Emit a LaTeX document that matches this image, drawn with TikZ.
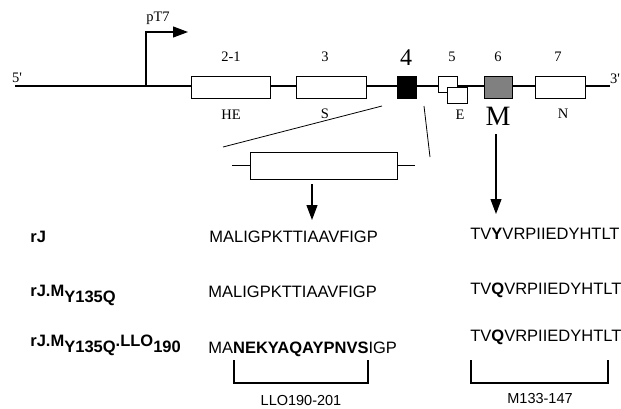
\documentclass[tikz,border=0pt]{standalone}
\usepackage{fontspec}
\setmainfont{Liberation Serif}
\setsansfont{Liberation Sans}
\usetikzlibrary{arrows.meta,positioning}
\newcommand{\lowsub}[1]{\raisebox{-6pt}{#1}}

\begin{document}
\begin{tikzpicture}[x=1pt,y=-1pt,every node/.style={font=\fontsize{14.5}{16}\selectfont,inner sep=0pt},line width=0.8pt]
\tikzset{exon/.style={draw,fill=white,minimum height=22pt,inner sep=0pt},
  seq/.style={font=\sffamily\fontsize{16.5}{18}\selectfont,anchor=base west},
  tag/.style={font=\sffamily\bfseries\fontsize{16.5}{18}\selectfont,anchor=base west},
  span/.style={font=\sffamily\fontsize{14.5}{16}\selectfont,anchor=base},
  tip/.style={-{Triangle[length=15pt,width=11pt]}}}
\useasboundingbox (0,0) rectangle (621,408);

% ---------- gene ----------
\coordinate (G5) at (15,86);
\coordinate (G3) at (610,86);
\draw[line width=1.3pt] (G5) -- (G3);

\node[exon,minimum width=79pt] (E21) at (230.5,87) {};
\node[exon,minimum width=70pt] (E3) at (331,87) {};
\node[exon,fill=black,minimum width=19pt] (E4) at (406.5,87) {};
\node[exon,minimum width=19pt,minimum height=16pt] (E5a) at (447.5,84) {};
\node[exon,minimum width=20pt,minimum height=16pt] (E5b) at (457,95) {};
\node[exon,fill=gray,minimum width=28pt] (E6) at (498,87) {};
\node[exon,minimum width=50pt] (E7) at (560,87) {};

\coordinate (P0) at (146,86);
\coordinate (P1) at (188,32);
\draw[tip,line width=1.1pt] (P0) |- (P1);
\node (pT7) at (158,18) {pT7};

\node (L5) at (17,78) {5\textquotesingle};
\node (L3) at (615,79) {3\textquotesingle};
\node (N21) at (231,57) {2-1};
\node (N3) at (325,57) {3};
\node[font=\fontsize{24}{26}\selectfont] (N4) at (406,58) {4};
\node (N5) at (452,57) {5};
\node (N6) at (498,57) {6};
\node (N7) at (558,57) {7};
\node (HE) at (231,115) {HE};
\node (S) at (325,114) {S};
\node (E) at (460,115) {E};
\node[font=\fontsize{28}{30}\selectfont] (M) at (498,116) {M};
\node (N) at (563,114) {N};

% ---------- exon 4 enlarged ----------
\coordinate (Z1) at (382,106);
\coordinate (Z2) at (223,147);
\coordinate (Z3) at (424,106);
\coordinate (Z4) at (430,157);
\draw (Z1) -- (Z2);
\draw (Z3) -- (Z4);

\node[exon,minimum width=147pt,minimum height=27pt] (X) at (323.5,165.5) {};
\coordinate (XL) at (232,165.5);
\coordinate (XR) at (415,165.5);
\draw (XL) -- (X.west);
\draw (X.east) -- (XR);

\coordinate (A1) at (312,184);
\coordinate (A2) at (312,220);
\draw[tip,line width=1.1pt] (A1) -- (A2);
\coordinate (B1) at (496,134);
\coordinate (B2) at (496,214);
\draw[tip,line width=1.1pt] (B1) -- (B2);

% ---------- sequences ----------
\node[tag] (R1) at (30,242) {rJ};
\node[tag] (R2) at (30,296) {rJ.M\lowsub{Y135Q}};
\node[tag] (R3) at (30,346) {rJ.M\lowsub{Y135Q}.LLO\lowsub{190}};

\node[seq] (S1) at (209,242) {MALIGPKTTIAAVFIGP};
\node[seq] (S2) at (208,297) {MALIGPKTTIAAVFIGP};
\node[seq] (S3) at (208,353) {MA\textbf{NEKYAQAYPNVS}IGP};

\node[seq] (T1) at (470,239) {TV\textbf{Y}VRPIIEDYHTLT};
\node[seq] (T2) at (470,294) {TV\textbf{Q}VRPIIEDYHTLT};
\node[seq] (T3) at (470,341) {TV\textbf{Q}VRPIIEDYHTLT};

% ---------- brackets ----------
\coordinate (K1) at (234,360);
\coordinate (K2) at (368,360);
\draw[line width=1.1pt] (K1) -- ++(0,23) -| (K2);
\node[span] (LLO) at (301,405) {LLO190-201};

\coordinate (K3) at (471,360);
\coordinate (K4) at (608,360);
\draw[line width=1.1pt] (K3) -- ++(0,23) -| (K4);
\node[span] (M133) at (540,403) {M133-147};

\end{tikzpicture}
\end{document}
